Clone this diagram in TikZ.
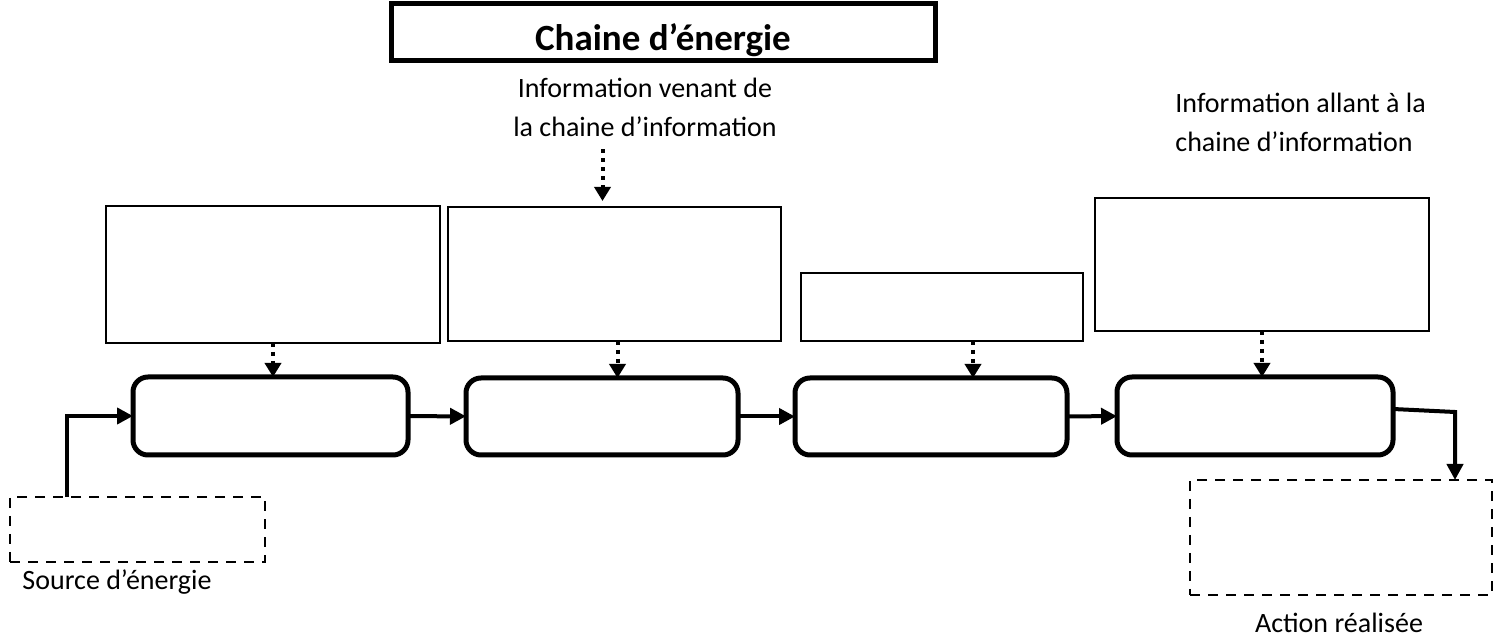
\documentclass[tikz,border=0pt]{standalone}
\usepackage{fontspec}
\setmainfont{Carlito}
\usetikzlibrary{arrows.meta,positioning,calc}

\tikzset{
  thinbox/.style={draw,line width=1.2pt,inner sep=0pt,outer sep=0pt},
  fbox/.style={draw,line width=2.5pt,rounded corners=7.5pt,inner sep=0pt,outer sep=0pt},
  dbox/.style={draw,line width=1.3pt,dash pattern=on 5pt off 4pt,inner sep=0pt,outer sep=0pt},
  flow/.style={line width=2pt,-{Triangle[length=8pt,width=8pt]}},
  info/.style={line width=2pt,dash pattern=on 2pt off 2.5pt,-{Triangle[length=7pt,width=8pt]}},
  txt/.style={font=\fontsize{14}{19.5}\selectfont,inner sep=0pt}
}

\begin{document}
\begin{tikzpicture}[x=0.5pt,y=-0.5pt,line join=miter]
\useasboundingbox (0,0) rectangle (1495,641);
\node[draw,line width=2.5pt,minimum width=272pt,minimum height=28.5pt,inner sep=0pt,text height=20pt,text depth=2pt,font=\fontsize{18.5}{20}\selectfont\bfseries] (titre) at (663,32.5) {Chaine d’énergie};
\node[txt,align=center] (infoin) at (645,107.5) {Information venant de\\la chaine d’information};
\node[txt,align=left,anchor=west] (infoout) at (1175,122.5) {Information allant à la\\chaine d’information};

\node[thinbox,minimum width=167pt,minimum height=68.5pt] (R1) at (273,274.5) {};
\node[thinbox,minimum width=166.5pt,minimum height=67pt] (R2) at (614.5,274) {};
\node[thinbox,minimum width=141pt,minimum height=34pt] (R3) at (942,307) {};
\node[thinbox,minimum width=167pt,minimum height=66.5pt] (R4) at (1262,264.5) {};

\node[fbox,minimum width=137.5pt,minimum height=39pt] (B1) at (270.5,416) {};
\node[fbox,minimum width=136pt,minimum height=38.5pt] (B2) at (602,416.5) {};
\node[fbox,minimum width=136pt,minimum height=38.5pt] (B3) at (931,416.5) {};
\node[fbox,minimum width=138pt,minimum height=39pt] (B4) at (1255,416) {};

\node[dbox,minimum width=127.5pt,minimum height=32.5pt] (src) at (137.5,529.5) {};
\node[txt] (srclab) at (117,582) {Source d’énergie};
\node[dbox,minimum width=151pt,minimum height=57.5pt] (act) at (1341,537.5) {};
\node[txt] (actlab) at (1339,623) {Action réalisée};
\coordinate (sortie) at (1455,412);

\draw[info] ([xshift=-6pt]R2.north |- infoin.south) ++(0,-6pt) -- ([xshift=-6pt,yshift=3pt]R2.north);
\draw[info] (R1.south) -- (R1.south |- B1.north);
\draw[info] ([xshift=1.5pt]R2.south) -- ([xshift=1.5pt]R2.south |- B2.north);
\draw[info] ([xshift=15.5pt]R3.south) -- ([xshift=15.5pt]R3.south |- B3.north);
\draw[info] (R4.south) -- (R4.south |- B4.north);

\draw[flow] ([xshift=-35.25pt]src.north) |- (B1.west);
\draw[flow] (B1) -- (B2);
\draw[flow] (B2) -- (B3);
\draw[flow] (B3) -- (B4);
\draw[flow] ([yshift=3.5pt]B4.east) -- (sortie) -- (sortie |- act.north);
\end{tikzpicture}
\end{document}
